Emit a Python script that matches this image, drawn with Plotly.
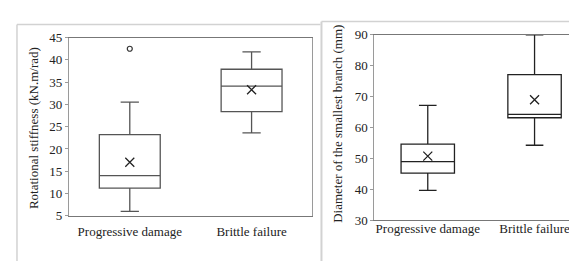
import plotly.graph_objects as go

categories = ["Progressive damage", "Brittle failure"]

# Left panel: rotational stiffness (kN.m/rad)
stiff_lower = [6.0, 23.6]
stiff_q1 = [11.2, 28.4]
stiff_median = [14.0, 34.1]
stiff_q3 = [23.2, 37.9]
stiff_upper = [30.5, 41.8]
stiff_mean = [17.0, 33.3]
stiff_outlier_cat = ["Progressive damage"]
stiff_outlier_val = [42.5]

# Right panel: diameter of the smallest branch (mm)
diam_lower = [39.7, 54.3]
diam_q1 = [45.3, 63.2]
diam_median = [49.0, 64.3]
diam_q3 = [54.7, 77.1]
diam_upper = [67.2, 90.0]
diam_mean = [50.8, 69.0]

W, H = 577, 261
FONT = "Liberation Serif"

fig = go.Figure()

fig.add_trace(go.Box(
    x=categories, q1=stiff_q1, median=stiff_median, q3=stiff_q3,
    lowerfence=stiff_lower, upperfence=stiff_upper,
    boxpoints=False, width=0.5, whiskerwidth=0.3,
    fillcolor="white", line=dict(color="#555555", width=1.3),
    xaxis="x", yaxis="y", showlegend=False, hoverinfo="skip"))
fig.add_trace(go.Scatter(
    x=categories, y=stiff_mean, mode="markers",
    marker=dict(symbol="x-thin", size=9, line=dict(color="#222222", width=1.3)),
    xaxis="x", yaxis="y", showlegend=False))
fig.add_trace(go.Scatter(
    x=stiff_outlier_cat, y=stiff_outlier_val, mode="markers",
    marker=dict(symbol="circle-open", size=5, color="#333333", line=dict(width=1.2)),
    xaxis="x", yaxis="y", showlegend=False))

fig.add_trace(go.Box(
    x=categories, q1=diam_q1, median=diam_median, q3=diam_q3,
    lowerfence=diam_lower, upperfence=diam_upper,
    boxpoints=False, width=0.5, whiskerwidth=0.33,
    fillcolor="white", line=dict(color="#222222", width=1.3),
    xaxis="x2", yaxis="y2", showlegend=False, hoverinfo="skip"))
fig.add_trace(go.Scatter(
    x=categories, y=diam_mean, mode="markers",
    marker=dict(symbol="x-thin", size=9, line=dict(color="#222222", width=1.3)),
    xaxis="x2", yaxis="y2", showlegend=False))

def px_x(p):
    return p / W

def px_y(p):
    return 1 - p / H

axis_font = dict(family=FONT, size=13, color="#222222")

fig.update_layout(
    width=W, height=H,
    margin=dict(l=0, r=0, t=0, b=0),
    paper_bgcolor="white", plot_bgcolor="white",
    font=dict(family=FONT, size=13, color="#222222"),
    xaxis=dict(domain=[px_x(61), px_x(305)], range=[-0.5, 1.5], type="category",
               showgrid=False, zeroline=False, showline=True, linecolor="#777777",
               linewidth=1, mirror=True, ticks="", tickfont=axis_font,
               ticklabelstandoff=4, anchor="y"),
    yaxis=dict(domain=[px_y(213), px_y(24)], range=[5, 45], dtick=5,
               showgrid=False, zeroline=False, showline=True, linecolor="#9a9a9a",
               linewidth=1, mirror=True, ticks="outside", ticklen=3,
               tickcolor="#9a9a9a", tickfont=axis_font, anchor="x"),
    xaxis2=dict(domain=[px_x(367), 1], range=[-0.5, 1.463], type="category",
                showgrid=False, zeroline=False, showline=True, linecolor="#777777",
                linewidth=1, mirror=True, ticks="", tickfont=axis_font,
                ticklabelstandoff=-4, anchor="y2"),
    yaxis2=dict(domain=[px_y(218), px_y(21)], range=[30, 90], dtick=10,
                showgrid=False, zeroline=False, showline=True, linecolor="#9a9a9a",
                linewidth=1, mirror=True, ticks="outside", ticklen=3,
                tickcolor="#9a9a9a", tickfont=axis_font, anchor="x2"),
    shapes=[
        # left panel outer frame
        dict(type="line", xref="paper", yref="paper", x0=px_x(9), x1=px_x(313),
             y0=px_y(10), y1=px_y(10), line=dict(color="#d2d2d2", width=1.5)),
        dict(type="line", xref="paper", yref="paper", x0=px_x(9), x1=px_x(9),
             y0=px_y(10), y1=0, line=dict(color="#d2d2d2", width=1.5)),
        # right panel outer frame
        dict(type="line", xref="paper", yref="paper", x0=px_x(314), x1=1,
             y0=px_y(7), y1=px_y(7), line=dict(color="#d2d2d2", width=1.5)),
        dict(type="line", xref="paper", yref="paper", x0=px_x(314), x1=px_x(314),
             y0=px_y(7), y1=0, line=dict(color="#d2d2d2", width=2)),
    ],
    annotations=[
        dict(text="Rotational stiffness (kN.m/rad)", textangle=-90,
             xref="paper", yref="paper", x=px_x(25), y=px_y(120),
             showarrow=False, font=axis_font, xanchor="center", yanchor="middle"),
        dict(text="Diameter of the smallest branch (mm)", textangle=-90,
             xref="paper", yref="paper", x=px_x(330), y=px_y(115),
             showarrow=False, font=axis_font, xanchor="center", yanchor="middle"),
    ],
)

fig.write_html("out.html")
